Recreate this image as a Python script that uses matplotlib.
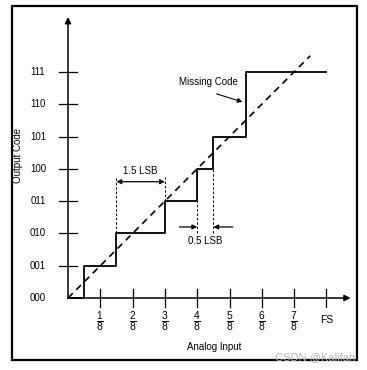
import matplotlib.pyplot as plt
from matplotlib.patches import Rectangle

plt.rcParams['font.family'] = ['Liberation Sans', 'DejaVu Sans']
plt.rcParams['mathtext.fontset'] = 'custom'
plt.rcParams['mathtext.rm'] = 'Liberation Sans'
plt.rcParams['mathtext.it'] = 'Liberation Sans'

# output codes on the y axis, analog input fractions on the x axis
codes = ['000', '001', '010', '011', '100', '101', '110', '111']
x_labels = [r'$\frac{1}{8}$', r'$\frac{2}{8}$', r'$\frac{3}{8}$', r'$\frac{4}{8}$',
            r'$\frac{5}{8}$', r'$\frac{6}{8}$', r'$\frac{7}{8}$', 'FS']
# transfer function (step edges, in 1/8 FS units) and code reached
step_x = [0, 0.5, 1.5, 3, 4, 4.5, 5.5, 8]
step_y = [0, 1, 2, 3, 4, 5, 7, 7]
ideal_x = [0, 7.5]
ideal_y = [0, 7.5]

W, H = 367, 370
x0, y0, s = 68, 298, 32.3   # pixel position of origin, pixels per LSB

fig = plt.figure(figsize=(W / 100, H / 100), dpi=100)
ax = fig.add_axes([0, 0, 1, 1])
ax.set_xlim(-x0 / s, (W - x0) / s)
ax.set_ylim((y0 - H) / s, y0 / s)
ax.axis('off')

# frame
fig.patches.append(Rectangle((12 / W, 1 - 360 / H), 345 / W, 354 / H,
                             transform=fig.transFigure, fill=False,
                             lw=1.6, ec='black'))

arrow = dict(arrowstyle='-|>', color='black', shrinkA=0, shrinkB=0)

# axes with arrows
ax.annotate('', xy=(0, 8.7), xytext=(0, 0),
            arrowprops=dict(arrow, lw=1.1, mutation_scale=9))
ax.annotate('', xy=(8.75, 0), xytext=(0, 0),
            arrowprops=dict(arrow, lw=1.1, mutation_scale=9))

# ticks + labels
for i, c in enumerate(codes):
    if i > 0:
        ax.plot([-0.28, 0.28], [i, i], color='black', lw=0.9)
    ax.text(-0.93, i, c, ha='center', va='center', fontsize=7)
for i, lab in enumerate(x_labels):
    ax.plot([i + 1, i + 1], [-0.27, 0.27], color='black', lw=0.9)
    if lab == 'FS':
        ax.text(i + 1, -0.68, lab, ha='center', va='center', fontsize=7.5)
    else:
        ax.text(i + 1, -0.74, lab, ha='center', va='center', fontsize=10.5)

ax.text(4.52, -1.52, 'Analog Input', ha='center', va='center', fontsize=7)
ax.text(-1.55, 4.4, 'Output Code', ha='center', va='center', fontsize=7,
        rotation=90)

# ideal line and transfer curve
ax.plot(ideal_x, ideal_y, color='black', lw=1.2, ls=(0, (4, 3)))
ax.step(step_x, step_y, where='post', color='black', lw=1.3)

# dashed guide lines
guides = [(1.5, 2, 3.75), (3, 3, 3.75), (4, 2.0, 4), (4.5, 2.0, 4)]
for gx, ya, yb in guides:
    ax.plot([gx, gx], [ya, yb], color='black', lw=0.7, ls=(0, (2.5, 2)))

# 1.5 LSB
ax.annotate('', xy=(3, 3.6), xytext=(1.5, 3.6),
            arrowprops=dict(arrow, arrowstyle='<|-|>', lw=0.9, mutation_scale=7))
ax.text(2.25, 3.93, '1.5 LSB', ha='center', va='center', fontsize=7)

# 0.5 LSB
ax.annotate('', xy=(4, 2.2), xytext=(3.45, 2.2),
            arrowprops=dict(arrow, lw=0.9, mutation_scale=7))
ax.annotate('', xy=(4.5, 2.2), xytext=(5.1, 2.2),
            arrowprops=dict(arrow, lw=0.9, mutation_scale=7))
ax.text(4.25, 1.75, '0.5 LSB', ha='center', va='center', fontsize=7)

# missing code
ax.text(3.45, 6.68, 'Missing Code', ha='left', va='center', fontsize=7)
ax.annotate('', xy=(5.4, 6.07), xytext=(4.6, 6.32),
            arrowprops=dict(arrow, lw=0.8, mutation_scale=7))

fig.text(355 / W, 1 - 357 / H, 'CSDN @Kalifah', ha='right', va='center',
         fontsize=8, color='#b4b4b4')

fig.savefig('out.png', dpi=100)
